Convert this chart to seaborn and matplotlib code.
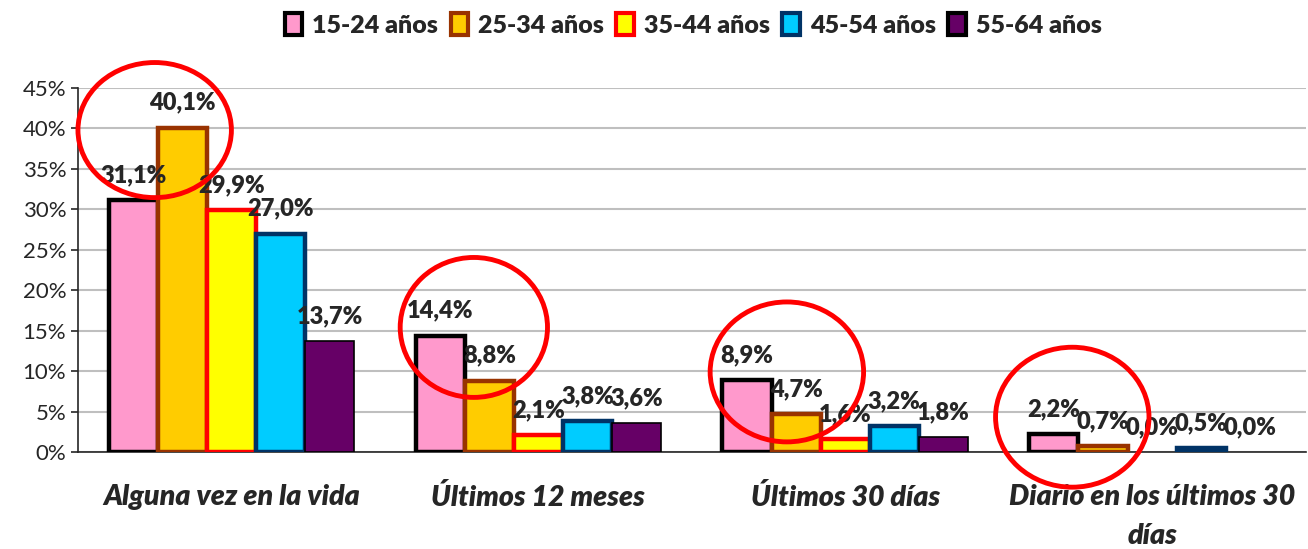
import pandas as pd
import matplotlib
matplotlib.use('Agg')
import matplotlib.pyplot as plt
import seaborn as sns
from matplotlib.patches import Patch, Ellipse
from matplotlib.ticker import PercentFormatter

# --- Datos ---
categorias = ['Alguna vez en la vida', 'Últimos 12 meses', 'Últimos 30 días',
              'Diario en los últimos 30\ndías']
grupos = ['15-24 años', '25-34 años', '35-44 años', '45-54 años', '55-64 años']

v_15_24 = [31.1, 14.4, 8.9, 2.2]
v_25_34 = [40.1, 8.8, 4.7, 0.7]
v_35_44 = [29.9, 2.1, 1.6, 0.0]
v_45_54 = [27.0, 3.8, 3.2, 0.5]
v_55_64 = [13.7, 3.6, 1.8, 0.0]

colores_relleno = ['#FF99CC', '#FFCC00', '#FFFF00', '#00CCFF', '#660066']
colores_borde = ['#000000', '#993300', '#FF0000', '#003366', '#000000']
grosor_borde = [3.2, 3.2, 3.2, 3.2, 1.2]

# elipses rojas de resaltado (centro x, centro y, ancho, alto) en unidades de datos
elipses = [(-0.25, 39.8, 0.50, 16.7),
           (0.79, 15.4, 0.48, 17.3),
           (1.81, 9.9, 0.50, 17.3),
           (2.74, 4.3, 0.50, 17.3)]

series = [v_15_24, v_25_34, v_35_44, v_45_54, v_55_64]
df = pd.DataFrame([(c, g, s[i]) for g, s in zip(grupos, series)
                   for i, c in enumerate(categorias)],
                  columns=['categoria', 'grupo', 'valor'])

# ==============================
# GRAFICO
# ==============================
sns.set_style('white')
plt.rcParams['font.family'] = ['Lato', 'DejaVu Sans']

fig = plt.figure(figsize=(13.08, 5.49), dpi=100)
ax = fig.add_axes([0.0596, 0.1767, 0.9385, 0.663])

sns.barplot(data=df, x='categoria', y='valor', hue='grupo', order=categorias,
            hue_order=grupos, palette=colores_relleno, width=0.8,
            saturation=1, legend=False, ax=ax, zorder=3)

for cont, ec, lw in zip(ax.containers, colores_borde, grosor_borde):
    for bar in cont:
        bar.set_edgecolor(ec)
        bar.set_linewidth(lw)
        bar.set_joinstyle('miter')
        if bar.get_height() == 0:
            bar.set_visible(False)
        ax.annotate(f"{bar.get_height():.1f}".replace('.', ',') + '%',
                    (bar.get_x() + bar.get_width() / 2, bar.get_height()),
                    xytext=(0, 18), textcoords='offset points',
                    ha='center', va='center', fontsize=17, fontweight='heavy',
                    zorder=5)

for cx, cy, w, h in elipses:
    ax.add_patch(Ellipse((cx, cy), w, h, fill=False, edgecolor='#FF0000',
                         linewidth=3.5, clip_on=False, zorder=6))

ax.set_xlim(-0.5, 3.5)
ax.set_ylim(0, 45)
ax.set_yticks(range(0, 46, 5))
ax.yaxis.set_major_formatter(PercentFormatter(decimals=0))
ax.grid(axis='y', color='#BFBFBF', linewidth=1.5, zorder=0)
ax.set_axisbelow(True)
for s in ['top', 'right']:
    ax.spines[s].set_visible(False)
ax.spines['left'].set_linewidth(1.2)
ax.spines['bottom'].set_linewidth(1.2)

ax.set_xticks(range(4))
ax.set_xticklabels(categorias, fontsize=20.5, fontweight='heavy', style='italic',
                   linespacing=1.6)
ax.set_xticks([-0.5, 0.5, 1.5, 2.5, 3.5], minor=True)
ax.tick_params(axis='x', which='major', length=0, pad=23)
ax.tick_params(axis='x', which='minor', length=8, width=1.2, direction='out')
ax.tick_params(axis='y', length=5, width=1.2, direction='out', labelsize=16,
               left=True)
ax.set_xlabel('')
ax.set_ylabel('')

handles = [Patch(facecolor=f, edgecolor=e, linewidth=3, label=g)
           for f, e, g in zip(colores_relleno, colores_borde, grupos)]
fig.legend(handles=handles, loc='center', bbox_to_anchor=(0.53, 0.955), ncol=5,
           frameon=False, handlelength=0.7, handleheight=1.0, handletextpad=0.4,
           columnspacing=0.5, prop={'size': 18, 'weight': 'heavy'})

fig.savefig('out.png', dpi=100)
